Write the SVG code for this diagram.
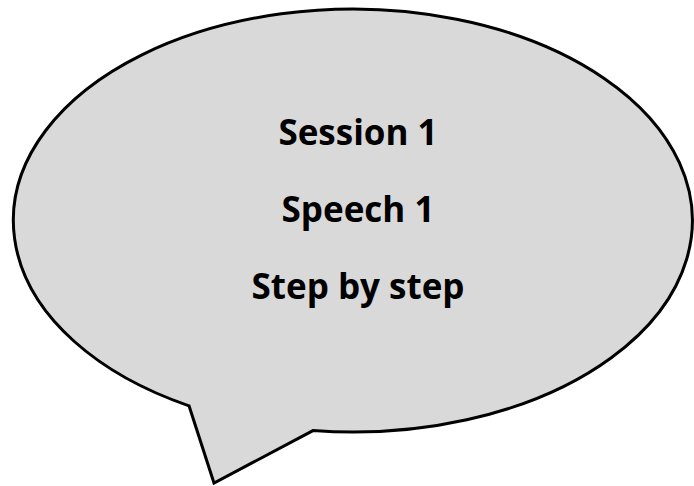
<svg xmlns="http://www.w3.org/2000/svg" width="694" height="486" viewBox="0 0 694 486">
  <style>
    .bubble { fill: #d9d9d9; stroke: #000000; stroke-width: 3; stroke-linejoin: miter; }
    .label { font-family: "Open Sans", "Liberation Sans", sans-serif; font-weight: bold; font-size: 35px; fill: #000000; text-anchor: middle; }
  </style>
  <g id="speech-bubble">
    <path class="bubble" d="M 313 430.6 A 339.5 211.5 0 1 0 189 405.8 L 214 483 Z"/>
    <text class="label" x="358" y="145">Session 1</text>
    <text class="label" x="358" y="222">Speech 1</text>
    <text class="label" x="358" y="299">Step by step</text>
  </g>
</svg>
